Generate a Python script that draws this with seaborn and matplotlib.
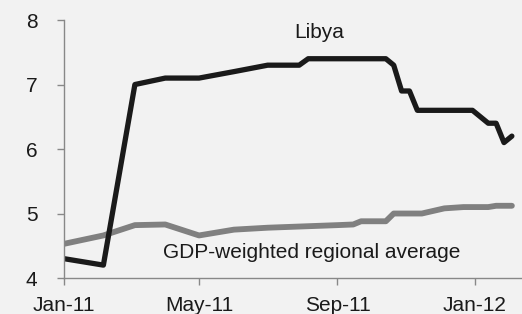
import matplotlib
matplotlib.use('Agg')
import matplotlib.pyplot as plt
import seaborn as sns
import pandas as pd

# values
libya_dates = ['2011-01-01', '2011-02-05', '2011-03-05', '2011-04-01', '2011-05-01',
               '2011-06-01', '2011-07-01', '2011-07-29', '2011-08-06', '2011-10-14',
               '2011-10-21', '2011-10-28', '2011-11-04', '2011-11-11', '2011-12-30',
               '2012-01-13', '2012-01-20', '2012-01-27', '2012-02-03']
libya_vals = [4.3, 4.2, 7.0, 7.1, 7.1,
              7.2, 7.3, 7.3, 7.4, 7.4,
              7.3, 6.9, 6.9, 6.6, 6.6,
              6.4, 6.4, 6.1, 6.2]

avg_dates = ['2011-01-01', '2011-02-05', '2011-03-05', '2011-04-01', '2011-05-01',
             '2011-06-01', '2011-07-01', '2011-08-01', '2011-09-01', '2011-09-15',
             '2011-09-22', '2011-10-14', '2011-10-21', '2011-11-15', '2011-12-05',
             '2011-12-22', '2012-01-13', '2012-01-20', '2012-02-03']
avg_vals = [4.53, 4.66, 4.82, 4.83, 4.66,
            4.75, 4.78, 4.80, 4.82, 4.83,
            4.88, 4.88, 5.0, 5.0, 5.08,
            5.1, 5.1, 5.12, 5.12]

tick_dates = ['2011-01-01', '2011-05-01', '2011-09-01', '2012-01-01']
tick_labels = ['Jan-11', 'May-11', 'Sep-11', 'Jan-12']

libya = pd.DataFrame({'date': pd.to_datetime(libya_dates), 'value': libya_vals})
avg = pd.DataFrame({'date': pd.to_datetime(avg_dates), 'value': avg_vals})

bg = '#f2f2f2'
sns.set_style('white')
plt.rcParams['font.family'] = ['Liberation Sans', 'DejaVu Sans']

fig = plt.figure(figsize=(5.22, 3.14), dpi=100, facecolor=bg)
ax = fig.add_axes([0.1226, 0.1146, 0.8774, 0.8216])
ax.set_facecolor(bg)

sns.lineplot(data=avg, x='date', y='value', ax=ax, color='#808080', linewidth=4.2)
sns.lineplot(data=libya, x='date', y='value', ax=ax, color='#1a1a1a', linewidth=3.8)

ax.set_ylim(4, 8)
ax.set_yticks([4, 5, 6, 7, 8])
ax.set_xlim(pd.Timestamp('2011-01-01'), pd.Timestamp('2012-02-12'))
ax.set_xticks(pd.to_datetime(tick_dates))
ax.set_xticklabels(tick_labels)
ax.set_xlabel('')
ax.set_ylabel('')

for side in ['top', 'right']:
    ax.spines[side].set_visible(False)
for side in ['left', 'bottom']:
    ax.spines[side].set_color('#888888')
    ax.spines[side].set_linewidth(1.0)
ax.tick_params(axis='both', direction='out', length=5, width=1.0, color='#888888',
               labelsize=15, labelcolor='#1a1a1a')
ax.tick_params(axis='y', pad=14)
ax.tick_params(axis='x', pad=8)
ax.tick_params(left=True, bottom=True)

ax.text(pd.Timestamp('2011-08-16'), 7.8, 'Libya', fontsize=15, color='#1a1a1a',
        ha='center', va='center')
ax.text(pd.Timestamp('2011-08-09'), 4.39, 'GDP-weighted regional average', fontsize=15,
        color='#1a1a1a', ha='center', va='center')

fig.savefig('out.png', dpi=100, facecolor=bg)
